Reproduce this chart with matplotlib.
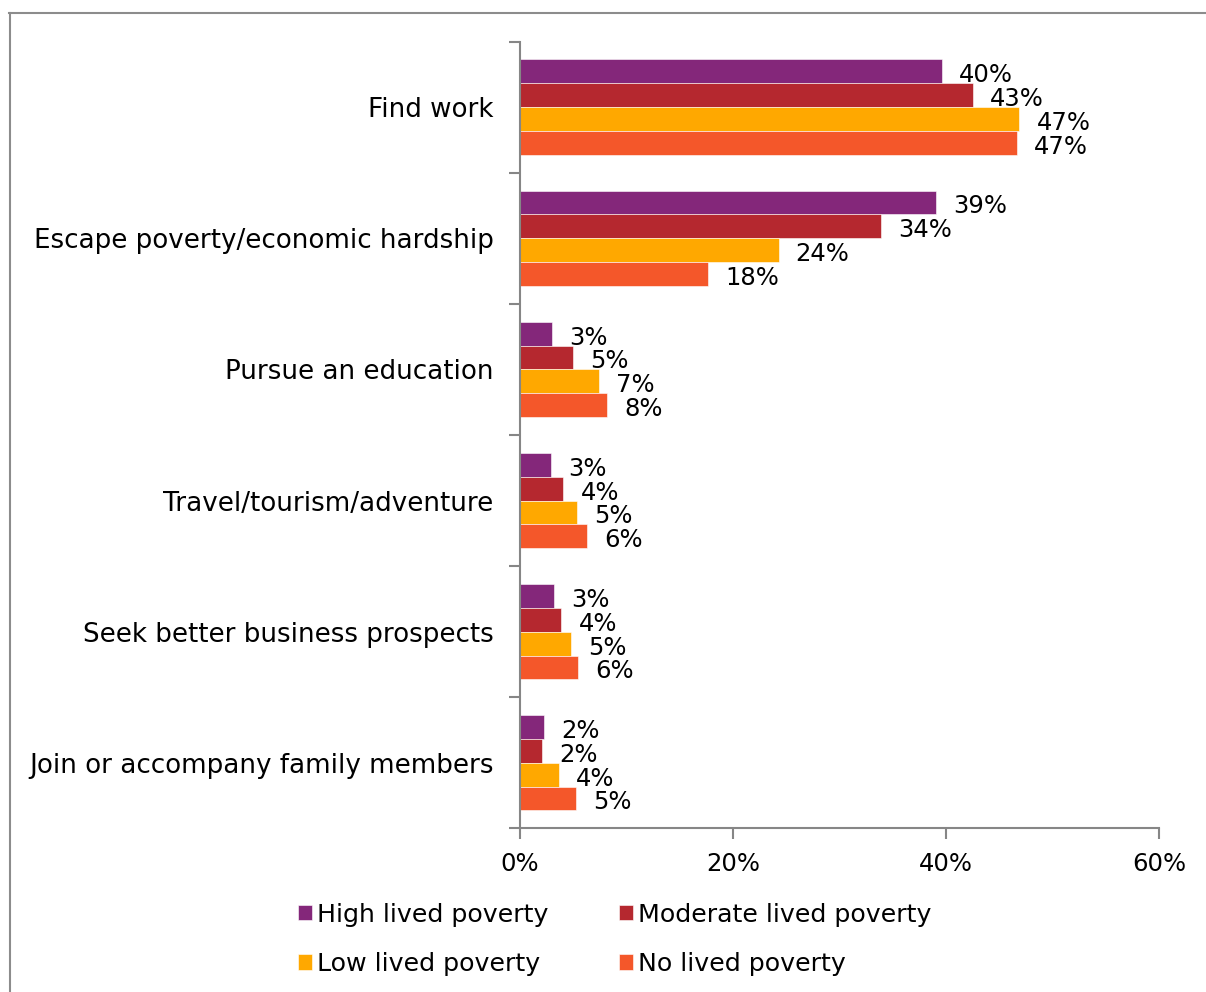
import numpy as np
import matplotlib as mpl
mpl.use('Agg')
import matplotlib.pyplot as plt
from matplotlib.lines import Line2D

plt.rcParams['font.family'] = ['DejaVu Sans']

# data
categories = ['Find work', 'Escape poverty/economic hardship', 'Pursue an education',
              'Travel/tourism/adventure', 'Seek better business prospects',
              'Join or accompany family members']
series = ['High lived poverty', 'Moderate lived poverty', 'Low lived poverty', 'No lived poverty']
high = [39.6, 39.1, 3.0, 2.9, 3.2, 2.3]
moderate = [42.5, 33.9, 5.0, 4.1, 3.9, 2.1]
low = [46.9, 24.3, 7.4, 5.4, 4.8, 3.7]
none_ = [46.7, 17.7, 8.2, 6.3, 5.5, 5.3]
labels = [['40%', '39%', '3%', '3%', '3%', '2%'],
          ['43%', '34%', '5%', '4%', '4%', '2%'],
          ['47%', '24%', '7%', '5%', '5%', '4%'],
          ['47%', '18%', '8%', '6%', '6%', '5%']]
colors = ['#84277A', '#B5282F', '#FFA800', '#F4572A']

fig = plt.figure(figsize=(12.06, 9.92), dpi=100)
ax = fig.add_axes([0.431, 0.165, 0.53, 0.793])

# outer frame (only top and left visible in the crop)
fig.add_artist(Line2D([9/1206, 1], [1-12.5/992, 1-12.5/992], transform=fig.transFigure,
                      color='#8c8c8c', lw=1.5))
fig.add_artist(Line2D([9.5/1206, 9.5/1206], [0, 1-12.5/992], transform=fig.transFigure,
                      color='#8c8c8c', lw=1.5))

y = np.arange(len(categories))
h = 0.182
all_vals = [high, moderate, low, none_]
for i, vals in enumerate(all_vals):
    pos = y - 1.5*h + i*h
    ax.barh(pos, vals, height=h, color=colors[i], label=series[i],
            edgecolor='white', linewidth=0.4)
    for p, v, t in zip(pos, vals, labels[i]):
        ax.text(v + 1.6, p + 0.03, t, va='center', ha='left', fontsize=17.5)

ax.set_xlim(0, 60)
ax.set_ylim(len(categories) - 0.5, -0.5)
ax.set_xticks([0, 20, 40, 60])
ax.set_xticklabels(['0%', '20%', '40%', '60%'], fontsize=17.5)
ax.set_yticks(y)
ax.set_yticklabels(categories, fontsize=18.8)
ax.set_yticks(np.arange(-0.5, len(categories)), minor=True)
ax.tick_params(axis='y', which='major', length=0, pad=19)
ax.tick_params(axis='y', which='minor', length=8, color='#868686', width=1.5)
ax.tick_params(axis='x', length=8, color='#868686', width=1.5, pad=9)
for s in ['top', 'right']:
    ax.spines[s].set_visible(False)
for s in ['left', 'bottom']:
    ax.spines[s].set_color('#868686')
    ax.spines[s].set_linewidth(1.5)

handles, lbls = ax.get_legend_handles_labels()
order = [0, 2, 1, 3]
fig.legend([handles[k] for k in order], [lbls[k] for k in order], ncol=2,
           loc='upper left', bbox_to_anchor=(0.228, 0.113), frameon=False,
           fontsize=18.2, handlelength=0.55, handleheight=0.55, handletextpad=0.2,
           columnspacing=2.8, labelspacing=1.0)

plt.savefig('out.png', dpi=100)
